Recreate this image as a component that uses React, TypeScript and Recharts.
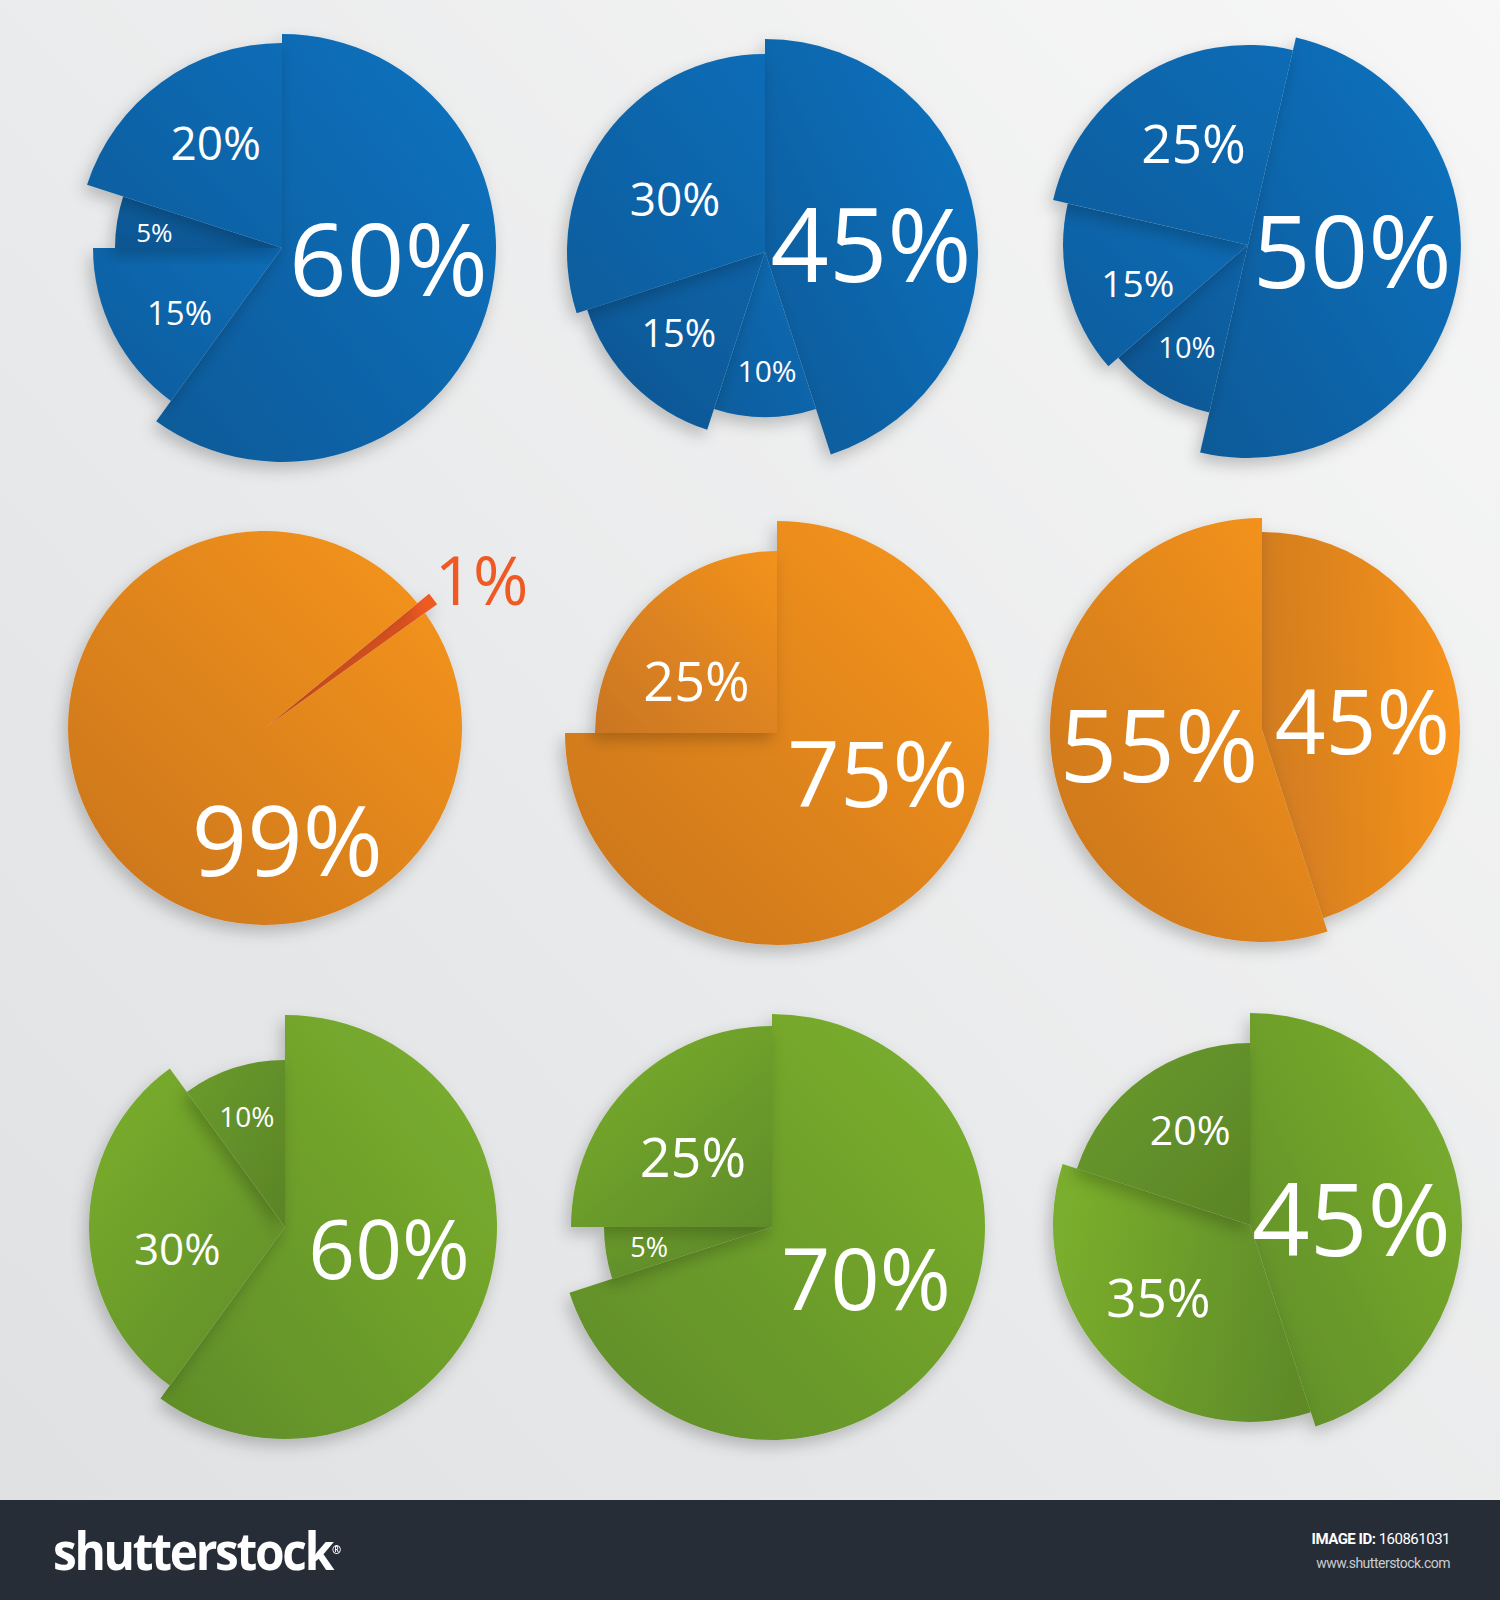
import { PieChart, Pie, Cell } from 'recharts';

// slice values in %, listed clockwise from the first cut
const blueLeft = [60, 15, 5, 20];
const blueMid = [45, 10, 15, 30];
const blueRight = [50, 10, 15, 25];
const orangeLeft = [1, 99];
const orangeMid = [75, 25];
const orangeRight = [45, 55];
const greenLeft = [60, 30, 10];
const greenMid = [70, 5, 25];
const greenRight = [45, 35, 20];

// label layout: [radius fraction, angle shift clockwise from slice middle, font size]
type LabelSpec = [number, number, number];

type PieSpec = {
  values: number[];
  cx: number;
  cy: number;
  rot: number; // first cut, degrees clockwise from 12 o'clock
  radii: number[];
  fills: string[];
  labels: LabelSpec[];
  labelColors?: string[];
};

const PIES: PieSpec[] = [
  { values: blueLeft, cx: 282, cy: 248, rot: 0, radii: [214, 189, 167, 205],
    fills: ['bLight', 'bMid', 'bDark', 'bMid'],
    labels: [[0.5, -13, 101], [0.64, -5, 33], [0.77, -2, 26], [0.61, 4, 46]] },
  { values: blueMid, cx: 765, cy: 252, rot: 0, radii: [213, 165, 187, 198],
    fills: ['bLight', 'bMid', 'bDark', 'bMid'],
    labels: [[0.5, 4, 102], [0.72, -1, 30], [0.63, 2, 38], [0.53, -5, 46]] },
  { values: blueRight, cx: 1248, cy: 245, rot: 13, radii: [213, 172, 185, 200],
    fills: ['bLight', 'bDark', 'bMid', 'bMid'],
    labels: [[0.49, -11, 101], [0.69, 0, 29], [0.63, -5, 37], [0.58, 4, 53]] },
  { values: orangeLeft, cx: 265, cy: 728, rot: 50.7, radii: [212, 197],
    fills: ['red', 'oLight'],
    labels: [[1.24, 3, 67], [0.57, -64, 97]], labelColors: ['#ef5a24', '#fff'] },
  { values: orangeMid, cx: 777, cy: 733, rot: 0, radii: [212, 182],
    fills: ['oLight', 'oMid'],
    labels: [[0.51, -24, 92], [0.53, -11.5, 54]] },
  { values: orangeRight, cx: 1262, cy: 730, rot: 0, radii: [198, 212],
    fills: ['oSeam', 'oLight'],
    labels: [[0.51, 3, 89], [0.49, 2, 101]] },
  { values: greenLeft, cx: 285, cy: 1227, rot: 0, radii: [212, 196, 167],
    fills: ['gLight', 'gMid', 'gDark'],
    labels: [[0.5, -7, 82], [0.56, -11, 44], [0.7, -1, 28]] },
  { values: greenMid, cx: 772, cy: 1227, rot: 0, radii: [213, 168, 201],
    fills: ['gLight', 'gDark', 'gMid'],
    labels: [[0.5, -8, 86], [0.74, 0, 27], [0.53, -3, 54]] },
  { values: greenRight, cx: 1250, cy: 1225, rot: 0, radii: [212, 197, 182],
    fills: ['gLight', 'gSeam', 'gDark'],
    labels: [[0.48, 4.5, 101], [0.59, 7, 53], [0.62, 4, 41]] },
];

// [id, from, to, x1, y1, x2, y2]
const GRADS: [string, string, string, number, number, number, number][] = [
  ['bLight', '#0973c1', '#0c5a98', 1, 0, 0, 1],
  ['bMid', '#0a6cb6', '#0b5d9d', 1, 0, 0, 1],
  ['bDark', '#0a63a8', '#0b5591', 1, 0, 0, 1],
  ['oLight', '#f8961e', '#c8741f', 1, 0, 0, 1],
  ['oMid', '#f3921f', '#c97620', 1, 0, 0, 1],
  ['oSeam', '#d27c20', '#f7941e', 0, 0.3, 1, 0.2],
  ['gLight', '#7cb12e', '#5f8c28', 1, 0, 0, 1],
  ['gMid', '#78ac2d', '#5f8c29', 0.2, 0, 1, 1],
  ['gDark', '#6a9b2c', '#5a8427', 0, 0, 1, 1],
  ['gSeam', '#7aae2d', '#5e8a28', 0, 0.4, 1, 0.6],
];

const RAD = Math.PI / 180;
const FONT = '"Open Sans", "DejaVu Sans", sans-serif';

const makeLabel = (spec: PieSpec, k: number) => (props: any) => {
  if (props.index !== k) return null;
  const [rf, shift, size] = spec.labels[k];
  const a = (props.midAngle - shift) * RAD;
  const r = props.outerRadius * rf;
  const x = props.cx + r * Math.cos(a);
  const y = props.cy - r * Math.sin(a);
  const color = spec.labelColors ? spec.labelColors[k] : '#fff';
  return (
    <text key={`l-${k}`} x={x} y={y} fill={color} fontSize={size} fontFamily={FONT}
      textAnchor="middle" dominantBaseline="central">
      {`${props.value}%`}
    </text>
  );
};

export default function App() {
  return (
    <div style={{ position: 'absolute', left: 0, top: 0, width: 1500, height: 1600,
      background: 'linear-gradient(to bottom left, #f7f7f7 0%, #e9eaeb 55%, #dfe0e2 100%)', overflow: 'hidden' }}>
      <PieChart width={1500} height={1500} margin={{ top: 0, right: 0, bottom: 0, left: 0 }}>
        <defs>
          {GRADS.map(([id, a, b, x1, y1, x2, y2]) => (
            <linearGradient key={id} id={id} x1={x1} y1={y1} x2={x2} y2={y2}>
              <stop offset="0%" stopColor={a} />
              <stop offset="100%" stopColor={b} />
            </linearGradient>
          ))}
          <filter id="shadow" x="-30%" y="-30%" width="160%" height="160%">
            <feDropShadow dx={-4} dy={7} stdDeviation={8} floodColor="#000" floodOpacity={0.22} />
          </filter>
        </defs>
        {PIES.map((spec, p) =>
          spec.values.map((_, k) => (
            <Pie
              key={`p${p}-${k}`}
              data={spec.values.map((v) => ({ value: v }))}
              dataKey="value"
              cx={spec.cx}
              cy={spec.cy}
              innerRadius={0}
              outerRadius={spec.radii[k]}
              startAngle={90 - spec.rot}
              endAngle={90 - spec.rot - 360}
              stroke="none"
              isAnimationActive={false}
              labelLine={false}
              label={makeLabel(spec, k)}
            >
              {spec.values.map((__, i) => (
                <Cell
                  key={`c${i}`}
                  fill={i === k ? (spec.fills[i] === 'red' ? '#ee5a24' : `url(#${spec.fills[i]})`) : 'none'}
                  filter={i === k ? 'url(#shadow)' : undefined}
                />
              ))}
            </Pie>
          ))
        )}
      </PieChart>
      <div style={{ position: 'absolute', left: 0, top: 1500, width: 1500, height: 100, background: '#272d37' }}>
        <div style={{ position: 'absolute', left: 53, top: 24, color: '#fff', fontFamily: FONT, fontWeight: 700,
          fontSize: 52, letterSpacing: -2.5, lineHeight: '52px', transform: 'scaleX(0.92)', transformOrigin: 'left' }}>
          shutterstock<span style={{ fontSize: 12, verticalAlign: 'top', letterSpacing: 0 }}>®</span>
        </div>
        <div style={{ position: 'absolute', right: 50, top: 30, color: '#fff', fontFamily: '"Liberation Sans Narrow", "Roboto", sans-serif',
          fontSize: 15, textAlign: 'right', letterSpacing: -0.5 }}>
          <span style={{ fontWeight: 700 }}>IMAGE ID: </span>160861031
        </div>
        <div style={{ position: 'absolute', right: 50, top: 55, color: '#c9ccd1', fontFamily: '"Liberation Sans Narrow", "Roboto", sans-serif',
          fontSize: 14, textAlign: 'right', letterSpacing: -0.5 }}>
          www.shutterstock.com
        </div>
      </div>
    </div>
  );
}
